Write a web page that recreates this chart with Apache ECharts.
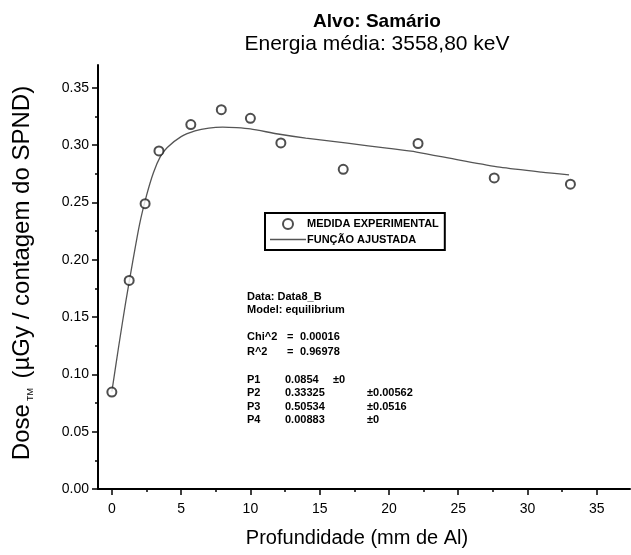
<!DOCTYPE html>
<html>
<head>
<meta charset="utf-8">
<script src="https://cdn.jsdelivr.net/npm/echarts@6/dist/echarts.min.js"></script>
<style>
  html, body { margin: 0; padding: 0; background: #fff; }
  #chart { width: 631px; height: 555px; }
</style>
</head>
<body>
<div id="chart"></div>
<script>
// Measured depth-dose points (depth in mm of Al, dose per SPND count)
const depth = [0, 1.25, 2.4, 3.4, 5.7, 7.9, 10.0, 12.2, 16.7, 22.1, 27.6, 33.1];
const dose  = [0.0846, 0.182, 0.249, 0.295, 0.318, 0.331, 0.3235, 0.302, 0.279, 0.3015, 0.2715, 0.266];

// Fitted curve, sampled along depth
const fitDepth = [0, 0.5, 1, 1.5, 2, 2.5, 3, 3.5, 4, 5, 6, 7, 8, 9, 10, 12, 14, 17, 20, 22, 25, 28, 31, 33];
const fitDose  = [0.085, 0.125, 0.163, 0.198, 0.231, 0.256, 0.276, 0.290, 0.298, 0.3075, 0.3125, 0.315, 0.3158, 0.3153, 0.3142, 0.3098, 0.3062, 0.3018, 0.2972, 0.2940, 0.2872, 0.2808, 0.2765, 0.2742];

// Axis ticks
const xMajorTicks = [0, 5, 10, 15, 20, 25, 30, 35];
const xMinorTicks = [2.5, 7.5, 12.5, 17.5, 22.5, 27.5, 32.5];
const yMajorTicks = [0, 0.05, 0.10, 0.15, 0.20, 0.25, 0.30, 0.35];
const yMinorTicks = [0.025, 0.075, 0.125, 0.175, 0.225, 0.275, 0.325];

// Fit report lines
const fitInfo = ['Data: Data8_B', 'Model: equilibrium'];
const fitStats = [['Chi^2', '0.00016'], ['R^2', '0.96978']];
const fitParams = [
  ['P1', '0.0854', '±0', ''],
  ['P2', '0.33325', '', '±0.00562'],
  ['P3', '0.50534', '', '±0.0516'],
  ['P4', '0.00883', '', '±0']
];

const FONT = 'Liberation Sans, Arial, sans-serif';
const chart = echarts.init(document.getElementById('chart'), null, { renderer: 'canvas' });

const xBase = {
  type: 'value', min: -1, max: 37.4,
  splitLine: { show: false },
  axisLine: { show: false, onZero: false }
};
const yBase = {
  type: 'value', min: 0, max: 0.37,
  splitLine: { show: false },
  axisLine: { show: false, onZero: false }
};

// Fit report drawn as text inside the plot
const reportText = [];
const small = { fontFamily: FONT, fontSize: 11, fontWeight: 'bold', fill: '#000' };
const addText = (left, top, text) =>
  reportText.push({ type: 'text', left, top, style: Object.assign({ text }, small) });
addText(247, 291, fitInfo[0]);
addText(247, 304, fitInfo[1]);
fitStats.forEach((r, i) => {
  const top = 331 + i * 15;
  addText(247, top, r[0]);
  addText(287, top, '=');
  addText(300, top, r[1]);
});
fitParams.forEach((r, i) => {
  const top = 374 + i * 13.5;
  addText(247, top, r[0]);
  addText(285, top, r[1]);
  if (r[2]) addText(333, top, r[2]);
  if (r[3]) addText(367, top, r[3]);
});

chart.setOption({
  backgroundColor: '#fff',
  animation: false,
  title: {
    text: 'Alvo: Samário',
    subtext: 'Energia média: 3558,80 keV',
    left: 372, top: 7, textAlign: 'center',
    itemGap: 3,
    textStyle: { fontFamily: FONT, fontSize: 19, fontWeight: 'bold', color: '#000' },
    subtextStyle: { fontFamily: FONT, fontSize: 21, color: '#000' }
  },
  grid: { left: 98, right: 1, top: 65, bottom: 66, containLabel: false, outerBoundsMode: 'none' },
  legend: {
    orient: 'vertical',
    left: 265, top: 213,
    padding: [5, 6, 5, 5],
    itemGap: 4,
    itemWidth: 36, itemHeight: 10,
    borderColor: '#000', borderWidth: 2, borderRadius: 0,
    backgroundColor: '#fff',
    selectedMode: false,
    textStyle: { fontFamily: FONT, fontSize: 11, fontWeight: 'bold', color: '#000', padding: [0, 0, 0, -4] },
    data: [
      { name: 'MEDIDA EXPERIMENTAL', icon: 'emptyCircle' },
      { name: 'FUNÇÃO AJUSTADA', icon: 'path://M0,0 L36,0 L36,1.3 L0,1.3 Z' }
    ]
  },
  xAxis: [
    Object.assign({}, xBase, {
      name: 'Profundidade (mm de Al)',
      nameLocation: 'middle', nameGap: 39,
      nameTextStyle: { fontFamily: FONT, fontSize: 20, color: '#000', padding: [0, 14, 0, 0] },
      axisLine: { show: true, onZero: false, lineStyle: { color: '#000', width: 2 } },
      axisTick: { show: true, inside: false, length: 6, customValues: xMajorTicks, lineStyle: { color: '#000', width: 1.5 } },
      axisLabel: { customValues: xMajorTicks, margin: 13, fontFamily: FONT, fontSize: 14, color: '#000' }
    }),
    Object.assign({}, xBase, {
      position: 'bottom',
      axisTick: { show: true, inside: false, length: 3, customValues: xMinorTicks, lineStyle: { color: '#000', width: 1.5 } },
      axisLabel: { show: false }
    })
  ],
  yAxis: [
    Object.assign({}, yBase, {
      name: '{a|Dose}{s|TM}{a| (µGy / contagem do SPND)}',
      nameLocation: 'middle', nameGap: 63, nameRotate: 90,
      nameTextStyle: {
        padding: [0, 0, 0, 8],
        rich: {
          a: { fontFamily: FONT, fontSize: 24, color: '#000' },
          s: { fontFamily: FONT, fontSize: 9, color: '#000', padding: [16, 3, 0, 3] }
        }
      },
      axisLine: { show: true, onZero: false, lineStyle: { color: '#000', width: 2 } },
      axisTick: { show: true, inside: false, length: 6, customValues: yMajorTicks, lineStyle: { color: '#000', width: 1.5 } },
      axisLabel: {
        customValues: yMajorTicks, margin: 9, fontFamily: FONT, fontSize: 14, color: '#000',
        formatter: v => v.toFixed(2)
      }
    }),
    Object.assign({}, yBase, {
      position: 'left',
      axisTick: { show: true, inside: false, length: 3, customValues: yMinorTicks, lineStyle: { color: '#000', width: 1.5 } },
      axisLabel: { show: false }
    })
  ],
  series: [
    {
      name: 'FUNÇÃO AJUSTADA',
      type: 'line',
      smooth: 0.25,
      symbol: 'none',
      lineStyle: { color: '#555', width: 1.3 },
      itemStyle: { color: '#555' },
      data: fitDepth.map((x, i) => [x, fitDose[i]]),
      z: 2
    },
    {
      name: 'MEDIDA EXPERIMENTAL',
      type: 'scatter',
      symbol: 'emptyCircle',
      symbolSize: 9,
      itemStyle: { color: '#222', borderColor: '#222', borderWidth: 1.7 },
      data: depth.map((x, i) => [x, dose[i]]),
      z: 3
    }
  ],
  graphic: reportText
});
</script>
</body>
</html>
